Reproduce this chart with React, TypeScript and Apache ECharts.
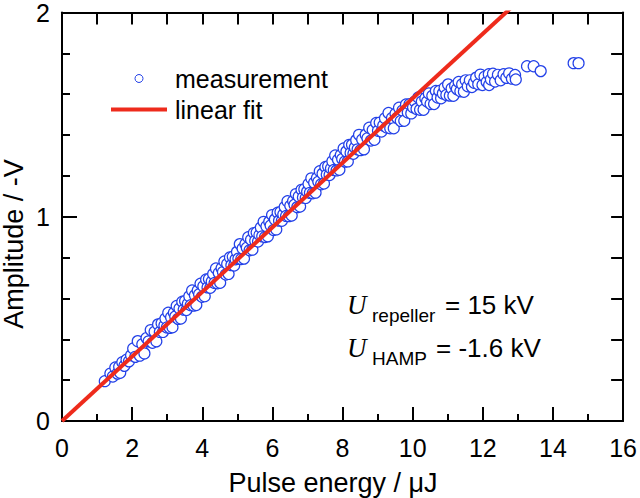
import React, { useEffect, useRef } from "react";
import * as echarts from "echarts";

// Measurement: pulse energy (µJ) and amplitude (-V)
const measX = [
  1.22, 1.38, 1.45, 1.52, 1.58, 1.63, 1.66, 1.72, 1.78, 1.84, 1.91, 1.97,
  2.03, 2.09, 2.16, 2.22, 2.29, 2.35, 2.41, 2.47, 2.53, 2.58, 2.64, 2.69, 2.74, 2.79, 2.84, 2.88, 2.92, 2.95, 2.99,
  3.03, 3.07, 3.11, 3.15, 3.19, 3.23, 3.27, 3.31, 3.35, 3.39, 3.43, 3.47, 3.51, 3.55, 3.59, 3.63, 3.67, 3.71, 3.75, 3.79, 3.83, 3.87, 3.91, 3.95, 3.99,
  4.03, 4.07, 4.11, 4.15, 4.19, 4.23, 4.27, 4.31, 4.35, 4.39, 4.43, 4.47, 4.51, 4.55, 4.59, 4.63, 4.67, 4.71, 4.75, 4.79, 4.83, 4.87, 4.91, 4.95, 4.99,
  5.03, 5.07, 5.11, 5.15, 5.19, 5.23, 5.27, 5.31, 5.35, 5.39, 5.43, 5.47, 5.51, 5.55, 5.59, 5.63, 5.67, 5.71, 5.75, 5.79, 5.83, 5.87, 5.91, 5.95, 5.99,
  6.03, 6.07, 6.11, 6.15, 6.19, 6.23, 6.27, 6.31, 6.35, 6.39, 6.43, 6.47, 6.51, 6.55, 6.59, 6.63, 6.67, 6.71, 6.75, 6.79, 6.83, 6.87, 6.91, 6.95, 6.99,
  7.03, 7.07, 7.11, 7.15, 7.19, 7.23, 7.27, 7.31, 7.35, 7.39, 7.43, 7.47, 7.51, 7.55, 7.59, 7.63, 7.67, 7.71, 7.75, 7.79, 7.83, 7.87, 7.91, 7.95, 7.99,
  8.03, 8.07, 8.11, 8.15, 8.19, 8.23, 8.27, 8.31, 8.35, 8.39, 8.43, 8.47, 8.51, 8.56, 8.61, 8.66, 8.71, 8.76, 8.81, 8.86, 8.91, 8.96,
  9.01, 9.06, 9.11, 9.16, 9.21, 9.26, 9.31, 9.36, 9.41, 9.46, 9.51, 9.56, 9.61, 9.66, 9.71, 9.76, 9.81, 9.86, 9.91, 9.96,
  10.01, 10.06, 10.11, 10.16, 10.21, 10.26, 10.31, 10.36, 10.41, 10.46, 10.51, 10.56, 10.61, 10.66, 10.71, 10.76, 10.81, 10.86, 10.91, 10.96,
  11.01, 11.06, 11.11, 11.16, 11.21, 11.26, 11.31, 11.36, 11.41, 11.46, 11.51, 11.57, 11.63, 11.69, 11.75, 11.81, 11.87, 11.93, 11.99,
  12.05, 12.11, 12.17, 12.18, 12.23, 12.29, 12.35, 12.43, 12.51, 12.59, 12.67, 12.75, 12.83, 12.92, 12.94,
  13.26, 13.45, 13.65, 14.59, 14.73,
];
const measY = [
  0.195, 0.232, 0.218, 0.262, 0.232, 0.266, 0.236, 0.288, 0.27, 0.3, 0.292, 0.322,
  0.355, 0.314, 0.391, 0.32, 0.376, 0.331, 0.406, 0.39, 0.445, 0.383, 0.437, 0.39, 0.473, 0.436, 0.479, 0.436, 0.467, 0.502, 0.458,
  0.53, 0.456, 0.508, 0.459, 0.53, 0.512, 0.563, 0.5, 0.551, 0.502, 0.584, 0.545, 0.587, 0.543, 0.574, 0.611, 0.567, 0.639, 0.565, 0.616, 0.568, 0.639, 0.621, 0.672, 0.608,
  0.66, 0.611, 0.693, 0.654, 0.695, 0.652, 0.683, 0.72, 0.676, 0.747, 0.674, 0.725, 0.677, 0.748, 0.729, 0.781, 0.717, 0.769, 0.72, 0.801, 0.763, 0.804, 0.761, 0.792, 0.828,
  0.795, 0.866, 0.793, 0.844, 0.795, 0.867, 0.848, 0.9, 0.836, 0.887, 0.839, 0.92, 0.882, 0.923, 0.879, 0.911, 0.947, 0.904, 0.975, 0.901, 0.953, 0.904, 0.976, 0.957, 1.008,
  0.935, 0.987, 0.938, 1.02, 0.981, 1.023, 0.98, 1.011, 1.048, 1.004, 1.076, 1.003, 1.054, 1.006, 1.077, 1.059, 1.111, 1.047, 1.099, 1.05, 1.132, 1.094, 1.135, 1.092, 1.123,
  1.16, 1.117, 1.188, 1.115, 1.166, 1.118, 1.19, 1.171, 1.223, 1.159, 1.211, 1.163, 1.244, 1.206, 1.247, 1.204, 1.236, 1.272, 1.229, 1.3, 1.227, 1.279, 1.23, 1.302, 1.283,
  1.334, 1.27, 1.32, 1.271, 1.352, 1.312, 1.353, 1.308, 1.339, 1.375, 1.33, 1.401, 1.326, 1.378, 1.33, 1.402, 1.384, 1.436, 1.373, 1.425, 1.377, 1.459,
  1.421, 1.461, 1.417, 1.447, 1.482, 1.437, 1.508, 1.433, 1.483, 1.433, 1.504, 1.484, 1.534, 1.469, 1.52, 1.47, 1.55, 1.51, 1.551, 1.506,
  1.536, 1.564, 1.528, 1.584, 1.524, 1.564, 1.524, 1.58, 1.564, 1.604, 1.552, 1.592, 1.552, 1.616, 1.584, 1.616, 1.58, 1.604, 1.632, 1.596,
  1.648, 1.593, 1.628, 1.592, 1.641, 1.625, 1.66, 1.614, 1.649, 1.612, 1.668, 1.639, 1.668, 1.635, 1.656, 1.681, 1.649, 1.696, 1.645,
  1.685, 1.66, 1.698, 1.645, 1.672, 1.7, 1.662, 1.695, 1.668, 1.698, 1.68, 1.702, 1.676, 1.694, 1.672,
  1.737, 1.737, 1.713, 1.752, 1.752,
];

// Linear fit end points
const fitX = [0, 16];
const fitY = [0, 2.528];

const seriesNames = ["measurement", "linear fit"];

const FONT = '"Liberation Sans", Arial, sans-serif';
const BLUE = "#2341e8";
const RED = "#ee2b1c";

export default function App() {
  const ref = useRef<HTMLDivElement>(null);
  useEffect(() => {
    const chart = echarts.init(ref.current!, null, { renderer: "svg" });
    const axisLine = { show: true, onZero: false, lineStyle: { color: "#000", width: 2 } };
    chart.setOption({
      animation: false,
      backgroundColor: "#fff",
      textStyle: { fontFamily: FONT },
      grid: { left: 62, right: 13, top: 10, bottom: 77, containLabel: false },
      legend: {
        orient: "vertical",
        left: 111,
        top: 66,
        padding: 0,
        itemWidth: 56,
        itemHeight: 8,
        itemGap: 6,
        symbolKeepAspect: true,
        textStyle: { fontSize: 25, color: "#000", fontFamily: FONT, padding: [0, 0, 0, 3] },
        data: [
          { name: seriesNames[0], icon: "circle", itemStyle: { color: "#fff", borderColor: BLUE, borderWidth: 1 } },
          { name: seriesNames[1], icon: "path://M0 0H56V4H0Z", itemStyle: { color: RED, borderWidth: 0 } },
        ],
      },
      xAxis: [
        {
          type: "value", position: "bottom", min: 0, max: 16, interval: 2,
          axisLine,
          axisTick: { show: true, inside: true, length: 14, lineStyle: { color: "#000", width: 2 } },
          minorTick: { show: true, splitNumber: 2, length: 7, lineStyle: { color: "#000", width: 2 } },
          axisLabel: { color: "#000", fontSize: 25, margin: 14, fontFamily: FONT },
          splitLine: { show: false },
        },
        {
          type: "value", position: "top", min: 0, max: 16, interval: 1,
          axisLine,
          axisTick: { show: true, inside: true, length: 12, lineStyle: { color: "#000", width: 2 } },
          axisLabel: { show: false },
          splitLine: { show: false },
        },
      ],
      yAxis: [
        {
          type: "value", position: "left", min: 0, max: 2, interval: 1,
          axisLine,
          axisTick: { show: true, inside: true, length: 15, lineStyle: { color: "#000", width: 2 } },
          minorTick: { show: true, splitNumber: 5, length: 8, lineStyle: { color: "#000", width: 2 } },
          axisLabel: { color: "#000", fontSize: 25, margin: 12, fontFamily: FONT },
          splitLine: { show: false },
        },
        {
          type: "value", position: "right", min: 0, max: 2, interval: 0.2,
          axisLine,
          axisTick: { show: true, inside: true, length: 12, lineStyle: { color: "#000", width: 2 } },
          axisLabel: { show: false },
          splitLine: { show: false },
        },
      ],
      series: [
        {
          name: seriesNames[0],
          type: "scatter",
          xAxisIndex: 0,
          yAxisIndex: 0,
          symbol: "circle",
          symbolSize: 11,
          itemStyle: { color: "#fff", borderColor: BLUE, borderWidth: 1.2, opacity: 1 },
          data: measX.map((x, i) => [x, measY[i]]),
          z: 2,
        },
        {
          name: seriesNames[1],
          type: "line",
          xAxisIndex: 0,
          yAxisIndex: 0,
          symbol: "none",
          showSymbol: false,
          clip: true,
          lineStyle: { color: RED, width: 4 },
          itemStyle: { color: RED },
          data: fitX.map((x, i) => [x, fitY[i]]),
          z: 3,
        },
      ],
      graphic: [
        {
          type: "text", x: 333, y: 483,
          style: { text: "Pulse energy / \u03bcJ", font: `27px ${FONT}`, fill: "#000", align: "center", verticalAlign: "middle" },
        },
        {
          type: "text", x: 14, y: 244, rotation: Math.PI / 2,
          style: { text: "Amplitude / -V", font: `27px ${FONT}`, fill: "#000", align: "center", verticalAlign: "middle" },
        },
        {
          type: "text", x: 347, y: 305,
          style: { text: "U", font: 'italic 27px "Liberation Serif", serif', fill: "#000", align: "left", verticalAlign: "middle" },
        },
        {
          type: "text", x: 372, y: 315,
          style: { text: "repeller", font: `19px ${FONT}`, fill: "#000", align: "left", verticalAlign: "middle" },
        },
        {
          type: "text", x: 445, y: 305,
          style: { text: "= 15 kV", font: `26px ${FONT}`, fill: "#000", align: "left", verticalAlign: "middle" },
        },
        {
          type: "text", x: 347, y: 348,
          style: { text: "U", font: 'italic 27px "Liberation Serif", serif', fill: "#000", align: "left", verticalAlign: "middle" },
        },
        {
          type: "text", x: 372, y: 358,
          style: { text: "HAMP", font: `19px ${FONT}`, fill: "#000", align: "left", verticalAlign: "middle" },
        },
        {
          type: "text", x: 436, y: 348,
          style: { text: "= -1.6 kV", font: `26px ${FONT}`, fill: "#000", align: "left", verticalAlign: "middle" },
        },
      ],
    });
    return () => chart.dispose();
  }, []);
  return <div ref={ref} style={{ position: "absolute", left: 0, top: 0, width: 640, height: 498 }} />;
}
